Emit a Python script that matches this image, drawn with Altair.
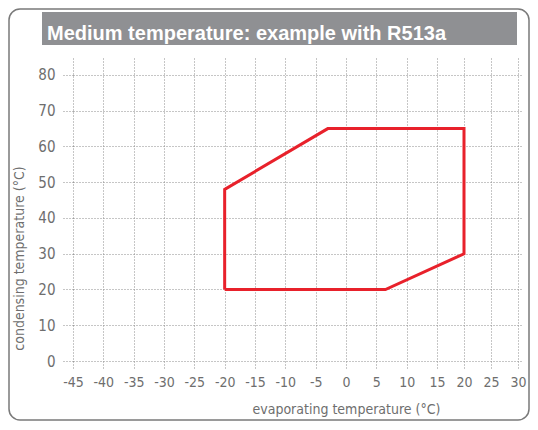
import altair as alt
import pandas as pd

title_text = "Medium temperature: example with R513a"
x_title = "evaporating temperature (°C)"
y_title = "condensing temperature (°C)"

# envelope vertices (evaporating, condensing), closed polygon
evap = [-20, -20, -3, 20, 20, 6.5, -20]
cond = [20, 48, 65, 65, 30, 20, 20]
order = list(range(len(evap)))

x_ticks = [-45, -40, -35, -30, -25, -20, -15, -10, -5, 0, 5, 10, 15, 20, 25, 30]
y_ticks = [0, 10, 20, 30, 40, 50, 60, 70, 80]

df = pd.DataFrame({"evap": evap, "cond": cond, "ord": order})

GRID = "#8c8c8c"
LABEL = "#6e6e6e"
FONT = "DejaVu Sans Condensed, Liberation Sans Narrow, Roboto, sans-serif"
MINUS = "replace(datum.label, '\u2212', '-')"

xscale = alt.Scale(domain=[-45, 15, 30, 30.93], range=[0, 364, 445, 450], nice=False, zero=False)
yscale = alt.Scale(domain=[0, 84.75], nice=False, zero=False)

xaxis = alt.Axis(values=x_ticks, title=x_title, domain=False, grid=True,
                 gridColor=GRID, gridDash=[1, 2], gridWidth=1,
                 tickColor=GRID, tickDash=[1, 2], tickSize=8, tickWidth=1,
                 labelFont=FONT, labelFontSize=14, labelColor=LABEL, labelPadding=6,
                 labelFlush=False, labelExpr=MINUS,
                 titleFont=FONT, titleFontSize=14, titleFontWeight="normal", titleColor=LABEL,
                 titleX=273, titleY=52, titleBaseline="alphabetic", titleAlign="center")
yaxis = alt.Axis(values=y_ticks, title=y_title, domain=False, grid=True,
                 gridColor=GRID, gridDash=[1, 2], gridWidth=1,
                 tickColor=GRID, tickDash=[1, 2], tickSize=11, tickWidth=1,
                 labelFont=FONT, labelFontSize=15, labelColor=LABEL, labelPadding=7,
                 labelFlush=False, labelExpr=MINUS,
                 titleFont=FONT, titleFontSize=14, titleFontWeight="normal", titleColor=LABEL,
                 titleX=-50, titleY=200, titleBaseline="alphabetic", titleAlign="center",
                 titleAngle=270)

one = pd.DataFrame({"t": [title_text]})

border = alt.Chart(one).mark_rect(fill=None, stroke="#7a7a7a", strokeWidth=1.5,
                                  cornerRadius=11, clip=False).encode(
    x=alt.value(-64), x2=alt.value(456), y=alt.value(-49), y2=alt.value(362))

bar = alt.Chart(one).mark_rect(fill="#8f9093", clip=False).encode(
    x=alt.value(-31), x2=alt.value(444), y=alt.value(-46), y2=alt.value(-13))

ttl = alt.Chart(one).mark_text(font="Liberation Sans", fontSize=20, fontWeight="bold",
                               color="white", align="left", baseline="alphabetic",
                               clip=False).encode(
    x=alt.value(-26), y=alt.value(-18), text="t:N")

poly = alt.Chart(df).mark_line(color="#e8212b", strokeWidth=3, strokeJoin="miter").encode(
    x=alt.X("evap:Q", scale=xscale, axis=xaxis),
    y=alt.Y("cond:Q", scale=yscale, axis=yaxis),
    order="ord:O")

chart = alt.layer(poly, border, bar, ttl).properties(
    width=450, height=303,
    autosize=alt.AutoSizeParams(type="none"),
    padding={"left": 65, "top": 50, "right": 7, "bottom": 61},
).configure_view(stroke=None)

chart.save("out.html", embed_options={"renderer": "svg", "actions": False})
